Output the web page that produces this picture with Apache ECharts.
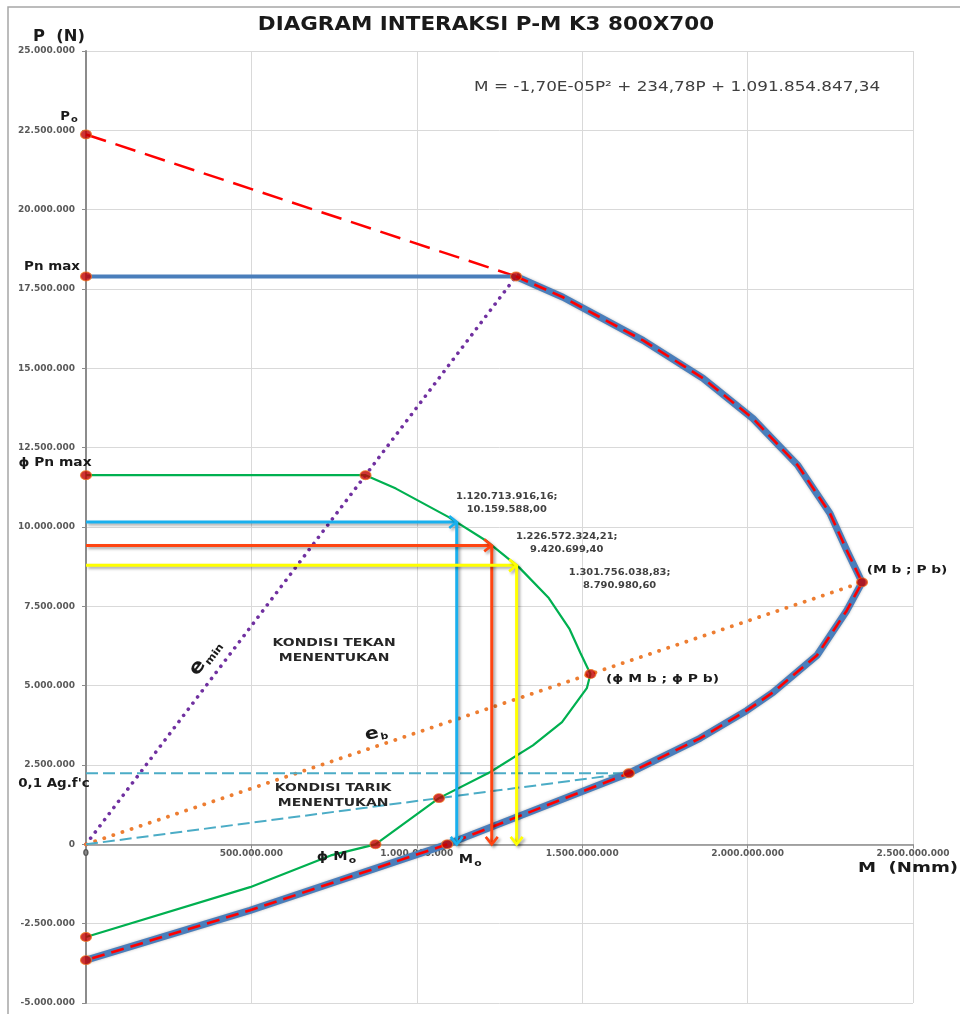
<!DOCTYPE html>
<html>
<head>
<meta charset="utf-8">
<script src="https://cdn.jsdelivr.net/npm/echarts@6/dist/echarts.min.js"></script>
<style>
  html, body { margin: 0; padding: 0; background: #ffffff; }
  #chart { width: 960px; height: 1014px; }
</style>
</head>
<body>
<div id="chart"></div>
<script>
// P-M interaction diagram, column K3 800x700 (M in Nmm, P in N)

// Key points of the nominal and design envelopes
const Po = 22370000;
const PnMax = 17896000;
const MnAtPnMax = 1300000000;
const phiPnMax = 11632000;
const phiMnAtPnMax = 845000000;
const Mb = 2346000000, Pb = 8256000;
const phiMb = 1525000000, phiPb = 5366000;
const M01 = 1641000000, P01 = 2240000;          // 0,1 Ag.f'c level
const phiM01 = 1067000000, phiP01 = 1456000;
const Mo = 1091854847.34;
const phiMo = 875000000;
const Pt = -3650000, phiPt = -2920000;

// Nominal envelope (Mn, Pn) from Pn max down to pure tension
const nominalCurve = [
  [MnAtPnMax, PnMax],
  [1442000000, 17240000],
  [1684000000, 15880000],
  [1865000000, 14690000],
  [2016000000, 13420000],
  [2152000000, 11940000],
  [2249000000, 10430000],
  [2300000000, 9260000],
  [Mb, Pb],
  [2300000000, 7370000],
  [2210000000, 5960000],
  [2077000000, 4790000],
  [1998000000, 4220000],
  [1856000000, 3340000],
  [M01, P01],
  [Mo, 0],
  [496000000, -2080000],
  [0, Pt]
];

// Design envelope (phi Mn, phi Pn)
const designCurve = [
  [0, phiPnMax],
  [phiMnAtPnMax, phiPnMax],
  [937000000, 11210000],
  [1095000000, 10320000],
  [1212000000, 9550000],
  [1310000000, 8720000],
  [1399000000, 7760000],
  [1462000000, 6780000],
  [1495000000, 6020000],
  [phiMb, phiPb],
  [1514000000, 4920000],
  [1439000000, 3850000],
  [1351000000, 3120000],
  [1221000000, 2270000],
  [phiM01, phiP01],
  [phiMo, 0],
  [740000000, -350000],
  [496000000, -1350000],
  [0, phiPt]
];

// Load cases read onto the design envelope
const arrowM = [1120713916.16, 1226572324.21, 1301756038.83];
const arrowP = [10159588.00, 9420699.40, 8790980.60];
const arrowColors = ['#19b0ee', '#ff4512', '#ffff00'];

const keyPoints = [
  [0, Po], [0, PnMax], [MnAtPnMax, PnMax], [0, phiPnMax], [phiMnAtPnMax, phiPnMax],
  [Mb, Pb], [phiMb, phiPb], [M01, P01], [phiM01, phiP01], [phiMo, 0], [Mo, 0],
  [0, phiPt], [0, Pt]
];

const xMin = 0, xMax = 2500000000, xStep = 500000000;
const yMin = -5000000, yMax = 25000000, yStep = 2500000;

const titleText = 'DIAGRAM INTERAKSI P-M K3 800X700';
const equationText = 'M = -1,70E-05P\u00B2 + 234,78P + 1.091.854.847,34';

const FONT = 'DejaVu Sans';
const AXIS_COLOR = '#8c8c8c';
const GRID = { left: 86, right: 47, top: 51, bottom: 11 };
const gridHeight = 1014 - GRID.top - GRID.bottom;

function groupDigits(s) { return s.replace(/\B(?=(\d{3})+(?!\d))/g, '.'); }
function fmtAxis(v) {
  if (v === 0) return '0';
  return (v < 0 ? '-' : '') + groupDigits(String(Math.round(Math.abs(v))));
}
function fmtDec(v) {
  const parts = v.toFixed(2).split('.');
  return groupDigits(parts[0]) + ',' + parts[1];
}

function lineSeries(name, data, lineStyle, z) {
  return { type: 'line', name, data, symbol: 'none', lineStyle, z, clip: false, silent: true, smooth: false };
}

// arrows: horizontal shaft to the envelope, then down to P = 0
const arrowData = [];
arrowM.forEach((m, i) => {
  arrowData.push([0, arrowP[i], m, arrowP[i], i]);
  arrowData.push([m, arrowP[i], m, 0, i]);
});

function renderArrow(params, api) {
  const a = api.coord([api.value(0), api.value(1)]);
  const b = api.coord([api.value(2), api.value(3)]);
  const color = arrowColors[api.value(4)];
  const ang = Math.atan2(b[1] - a[1], b[0] - a[0]);
  const L = 7.5, W = 6;
  const cx = b[0] - L * Math.cos(ang), cy = b[1] - L * Math.sin(ang);
  const nx = -Math.sin(ang), ny = Math.cos(ang);
  const shadow = { shadowColor: 'rgba(0,0,0,0.35)', shadowBlur: 3, shadowOffsetX: 2, shadowOffsetY: 2 };
  return {
    type: 'group',
    children: [
      { type: 'line', shape: { x1: a[0], y1: a[1], x2: b[0] - 1.5 * Math.cos(ang), y2: b[1] - 1.5 * Math.sin(ang) },
        style: Object.assign({ stroke: color, lineWidth: 3 }, shadow) },
      { type: 'polyline', shape: { points: [[cx + W * nx, cy + W * ny], [b[0], b[1]], [cx - W * nx, cy - W * ny]] },
        style: Object.assign({ stroke: color, lineWidth: 2.6, fill: null, lineJoin: 'miter' }, shadow) }
    ]
  };
}

const chart = echarts.init(document.getElementById('chart'), null, { renderer: 'canvas' });

chart.setOption({
  animation: false,
  backgroundColor: '#ffffff',
  grid: Object.assign({ containLabel: false, outerBoundsMode: 'none' }, GRID),
  xAxis: {
    type: 'value', min: xMin, max: xMax, interval: xStep,
    position: 'bottom',
    offset: -(0 - yMin) / (yMax - yMin) * gridHeight,
    axisLine: { show: true, onZero: false, lineStyle: { color: AXIS_COLOR, width: 1.5 } },
    axisTick: { show: true, length: 4, lineStyle: { color: AXIS_COLOR } },
    axisLabel: { formatter: fmtAxis, fontFamily: FONT, fontWeight: 'bold', fontSize: 9, color: '#595959', margin: 5 },
    splitLine: { show: true, lineStyle: { color: '#d9d9d9', width: 1 } }
  },
  yAxis: {
    type: 'value', min: yMin, max: yMax, interval: yStep,
    axisLine: { show: true, onZero: true, lineStyle: { color: AXIS_COLOR, width: 2 } },
    axisTick: { show: true, length: 4, lineStyle: { color: AXIS_COLOR } },
    axisLabel: { formatter: fmtAxis, fontFamily: FONT, fontWeight: 'bold', fontSize: 9, color: '#595959', margin: 11 },
    splitLine: { show: true, lineStyle: { color: '#d9d9d9', width: 1 } }
  },
  series: [
    lineSeries('e min', [[0, 0], [MnAtPnMax, PnMax]],
      { color: '#7030a0', width: 3.6, type: [0.1, 7.6], cap: 'round' }, 2),
    lineSeries('e b', [[0, 0], [Mb, Pb]],
      { color: '#ed7d31', width: 3.8, type: [0.1, 9.5], cap: 'round' }, 2),
    lineSeries('0,1 Ag.fc diagonal', [[0, 0], [M01, P01]],
      { color: '#4bacc6', width: 2, type: [12, 5] }, 2),
    lineSeries('0,1 Ag.fc level', [[0, P01], [M01, P01]],
      { color: '#4bacc6', width: 2, type: [12, 5] }, 2),
    lineSeries('Po to Pn max', [[0, Po], [MnAtPnMax, PnMax]],
      { color: '#ff0000', width: 2.5, type: [21, 10] }, 3),
    lineSeries('Pn max', [[0, PnMax], [MnAtPnMax, PnMax]],
      { color: '#4a7ebb', width: 4 }, 3),
    lineSeries('Nominal', nominalCurve,
      { color: '#4a7ebb', width: 7, shadowColor: 'rgba(0,0,0,0.25)', shadowBlur: 3 }, 3),
    lineSeries('Nominal dashed', nominalCurve,
      { color: '#ff0000', width: 2.6, type: [13, 7] }, 4),
    lineSeries('Design', designCurve,
      { color: '#00b050', width: 2.2 }, 4),
    {
      type: 'custom', name: 'Load arrows', coordinateSystem: 'cartesian2d',
      data: arrowData, renderItem: renderArrow, clip: false, silent: true, z: 5,
      encode: { x: [0, 2], y: [1, 3] }
    },
    {
      type: 'scatter', data: keyPoints, symbol: 'circle', symbolSize: [11, 9], clip: false, silent: true, z: 10,
      itemStyle: { color: '#c00000', borderColor: '#f07820', borderWidth: 1 }
    }
  ]
});

// Text placed relative to data coordinates
const toPx = (m, p) => chart.convertToPixel({ gridIndex: 0 }, [m, p]);

function textAt(pos, d, text, o) {
  o = o || {};
  return {
    type: 'text', silent: true, z: 100,
    x: pos[0] + d[0], y: pos[1] + d[1],
    rotation: (o.rot || 0) * Math.PI / 180,
    scaleX: o.sx || 1,
    style: {
      text,
      fontFamily: FONT,
      fontWeight: o.weight || 'bold',
      fontSize: o.size || 12,
      fill: o.color || '#1a1a1a',
      align: 'center', verticalAlign: 'middle',
      lineHeight: o.lh,
      rich: o.rich
    }
  };
}

const subRich = (big, small, pad) => ({
  b: { fontFamily: FONT, fontWeight: 'bold', fontSize: big, fill: '#1a1a1a' },
  s: { fontFamily: FONT, fontWeight: 'bold', fontSize: small, fill: '#1a1a1a', padding: [pad, 0, 0, 1] }
});

const graphics = [
  { type: 'polyline', silent: true, shape: { points: [[8, 1014], [8, 7], [960, 7]] },
    style: { stroke: '#a6a6a6', lineWidth: 1.5, fill: null } },
  textAt([486, 25], [0, 0], titleText, { size: 19, sx: 1.13, color: '#1a1a1a' }),
  textAt([59, 37], [0, 0], 'P  (N)', { size: 15, sx: 1.09 }),
  textAt([908, 868], [0, 0], 'M  (Nmm)', { size: 14.5, sx: 1.25 }),
  textAt(toPx(1787000000, 23860000), [0, 0], equationText, { size: 14.5, sx: 1.16, weight: 'normal', color: '#404040' }),

  textAt(toPx(0, Po), [-17, -18], '{b|P}{s|o}', { rich: subRich(12, 9, 6), sx: 1.1 }),
  textAt(toPx(0, PnMax), [-34, -10], 'Pn max', { size: 12, sx: 1.12 }),
  textAt(toPx(0, phiPnMax), [-31, -12], '\u03D5 Pn max', { size: 12, sx: 1.15 }),
  textAt(toPx(0, P01), [-32, 11], "0,1 Ag.f'c", { size: 12, sx: 1.12 }),
  textAt(toPx(phiMo, 0), [-39, 13], '{b|\u03D5 M}{s|o}', { rich: subRich(12, 9, 6), sx: 1.2 }),
  textAt(toPx(Mo, 0), [23, 16], '{b|M}{s|o}', { rich: subRich(12, 9, 6), sx: 1.2 }),
  textAt(toPx(Mb, Pb), [45, -12], '(M b ; P b)', { size: 11, sx: 1.25 }),
  textAt(toPx(phiMb, phiPb), [72, 5], '(\u03D5 M b ; \u03D5 P b)', { size: 11, sx: 1.26 }),

  textAt(toPx(750000000, 6110000), [0, 0], 'KONDISI TEKAN\nMENENTUKAN', { size: 10.5, sx: 1.33, lh: 15, color: '#262626' }),
  textAt(toPx(747000000, 1544000), [0, 0], 'KONDISI TARIK\nMENENTUKAN', { size: 10.5, sx: 1.33, lh: 15, color: '#262626' }),
  textAt(toPx(360000000, 5890000), [0, 0], '{b|e}{s|min}', { rich: subRich(19, 10, 12), sx: 1.15, rot: 53 }),
  textAt(toPx(877000000, 3500000), [0, 0], '{b|e}{s|b}', { rich: subRich(17, 9, 10), sx: 1.2, rot: 12 })
];

const noteOffsets = [[50, -19], [75, -2], [103, 14]];
arrowM.forEach((m, i) => {
  graphics.push(textAt(toPx(m, arrowP[i]), noteOffsets[i],
    fmtDec(m) + ';\n' + fmtDec(arrowP[i]),
    { size: 9, sx: 1.1, lh: 13, color: '#404040' }));
});

chart.setOption({ graphic: graphics });
</script>
</body>
</html>
